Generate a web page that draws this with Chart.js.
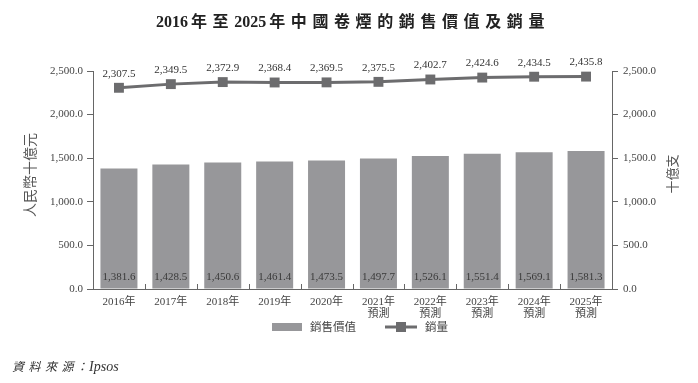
<!DOCTYPE html>
<html><head><meta charset="utf-8">
<script src="https://cdn.jsdelivr.net/npm/chart.js@4/dist/chart.umd.min.js"></script>
<style>
html,body{margin:0;padding:0;background:#fff;}
#wrap{position:relative;width:698px;height:383px;overflow:hidden;}
#c{position:absolute;left:0;top:0;}
#title{position:absolute;left:0;top:9px;width:706px;text-align:center;font-weight:bold;font-size:16px;color:#222;line-height:22px;white-space:nowrap;}
#title .d{font-family:'Liberation Serif',serif;letter-spacing:0;}
#title .k{font-family:'Noto Sans CJK TC',sans-serif;letter-spacing:5.6px;margin-left:3px;}
#src{position:absolute;left:12px;top:356px;font-size:12px;color:#333;font-style:italic;white-space:nowrap;line-height:20px;}
#src .k{font-family:'Noto Sans CJK TC',sans-serif;letter-spacing:4.5px;}
#src .c{font-family:'Noto Sans CJK TC',sans-serif;margin-left:-2px;}
#src .e{font-family:'Liberation Serif',serif;font-size:14px;margin-left:1px;}
</style></head>
<body>
<div id="wrap">
<canvas id="c" width="698" height="383"></canvas>
<div id="title"><span class="d">2016</span><span class="k">年至</span><span class="d">2025</span><span class="k">年中國卷煙的銷售價值及銷量</span></div>
<div id="src"><span class="k">資料來源</span><span class="c">：</span><span class="e">Ipsos</span></div>
</div>
<script>
const years = ['2016年','2017年','2018年','2019年','2020年','2021年','2022年','2023年','2024年','2025年'];
const forecastFlag = [false,false,false,false,false,true,true,true,true,true];
const salesValue = [1381.6,1428.5,1450.6,1461.4,1473.5,1497.7,1526.1,1551.4,1569.1,1581.3];
const salesVolume = [2307.5,2349.5,2372.9,2368.4,2369.5,2375.5,2402.7,2424.6,2434.5,2435.8];
const yTicks = [0,500,1000,1500,2000,2500];
const seriesNames = ['銷售價值','銷量'];
const leftTitle = '人民幣十億元';
const rightTitle = '十億支';

const labels = years.map((y,i)=> forecastFlag[i] ? [y,'預測'] : [y]);
const fmt = v => v.toLocaleString('en-US',{minimumFractionDigits:1,maximumFractionDigits:1});
const BAR = '#97979a', LINE = '#6c6c6e', AX = '#666', TXT = '#444';
const serif = "'Liberation Serif','Noto Sans CJK TC',serif";
const cjk = "'Noto Sans CJK TC',sans-serif";

const deco = {
  id:'deco',
  afterDatasetsDraw(chart){
    const ctx = chart.ctx, ca = chart.chartArea;
    const xs = chart.scales.x;
    ctx.save();
    ctx.strokeStyle = AX; ctx.lineWidth = 1;
    for(let i=1;i<labels.length;i++){
      const bx = Math.round((xs.getPixelForValue(i-1)+xs.getPixelForValue(i))/2)+0.5;
      ctx.beginPath(); ctx.moveTo(bx, ca.bottom); ctx.lineTo(bx, ca.bottom-5); ctx.stroke();
    }
    ctx.font = "11px " + serif; ctx.fillStyle = '#3a3a3a'; ctx.textAlign='center'; ctx.textBaseline='middle';
    chart.getDatasetMeta(0).data.forEach((el,i)=>{
      ctx.fillText(fmt(salesValue[i]), el.x, ca.bottom-12);
    });
    ctx.fillStyle = '#333';
    chart.getDatasetMeta(1).data.forEach((el,i)=>{
      ctx.fillText(fmt(salesVolume[i]), el.x, el.y-14);
    });
    ctx.restore();
  },
  afterDraw(chart){
    const ctx = chart.ctx, ca = chart.chartArea;
    ctx.save();
    ctx.fillStyle = '#555'; ctx.textAlign='center'; ctx.textBaseline='middle';
    ctx.font = "14px " + cjk;
    ctx.translate(30, (ca.top+ca.bottom)/2 - 5); ctx.rotate(-Math.PI/2);
    ctx.fillText(leftTitle, 0, 0);
    ctx.restore();
    ctx.save();
    ctx.fillStyle = '#555'; ctx.textAlign='center'; ctx.textBaseline='middle';
    ctx.font = "13px " + cjk;
    ctx.translate(672, (ca.top+ca.bottom)/2 - 6); ctx.rotate(-Math.PI/2);
    ctx.fillText(rightTitle, 0, 0);
    ctx.restore();
    ctx.save();
    const ly = 327;
    ctx.fillStyle = BAR; ctx.fillRect(272, ly-4, 30, 8);
    ctx.font = "11.5px " + cjk; ctx.fillStyle = TXT; ctx.textAlign='left'; ctx.textBaseline='middle';
    ctx.fillText(seriesNames[0], 310, ly);
    ctx.strokeStyle = LINE; ctx.lineWidth = 3;
    ctx.beginPath(); ctx.moveTo(385, ly); ctx.lineTo(417, ly); ctx.stroke();
    ctx.fillStyle = LINE; ctx.fillRect(396, ly-5, 10, 10);
    ctx.fillStyle = TXT; ctx.fillText(seriesNames[1], 425, ly);
    ctx.restore();
  }
};

new Chart(document.getElementById('c'), {
  data:{
    labels: labels,
    datasets:[
      {type:'bar', label:seriesNames[0], data:salesValue, yAxisID:'y', backgroundColor:BAR,
       barPercentage:0.713, categoryPercentage:1, order:2},
      {type:'line', label:seriesNames[1], data:salesVolume, yAxisID:'y1', borderColor:LINE, borderWidth:3,
       pointStyle:'rect', pointRadius:7, pointHoverRadius:7, pointBackgroundColor:LINE, pointBorderColor:LINE,
       pointBorderWidth:0, tension:0, order:1}
    ]
  },
  options:{
    responsive:false, animation:false, devicePixelRatio:1,
    layout:{padding:{top:71,bottom:0,left:0,right:0}},
    plugins:{legend:{display:false}, tooltip:{enabled:false}, title:{display:false}},
    scales:{
      x:{
        grid:{display:false}, border:{display:true,color:AX,width:1},
        ticks:{color:TXT, padding:-1, font:{family:serif,size:11,lineHeight:1.1}, maxRotation:0, autoSkip:false},
        afterFit(s){ s.height = 94; }
      },
      y:{
        position:'left', min:0, max:2500,
        afterBuildTicks(s){ s.ticks = yTicks.map(v=>({value:v})); },
        grid:{drawOnChartArea:false, drawTicks:true, tickLength:6, color:AX},
        border:{display:true,color:AX,width:1},
        ticks:{color:TXT, padding:4, font:{family:serif,size:11}, callback:v=>fmt(v)},
        afterFit(s){ s.width = 93; }
      },
      y1:{
        position:'right', min:0, max:2500,
        afterBuildTicks(s){ s.ticks = yTicks.map(v=>({value:v})); },
        grid:{drawOnChartArea:false, drawTicks:true, tickLength:6, color:AX},
        border:{display:true,color:AX,width:1},
        ticks:{color:TXT, padding:5, font:{family:serif,size:11}, callback:v=>fmt(v)},
        afterFit(s){ s.width = 86; }
      }
    }
  },
  plugins:[deco]
});
</script>
</body></html>
